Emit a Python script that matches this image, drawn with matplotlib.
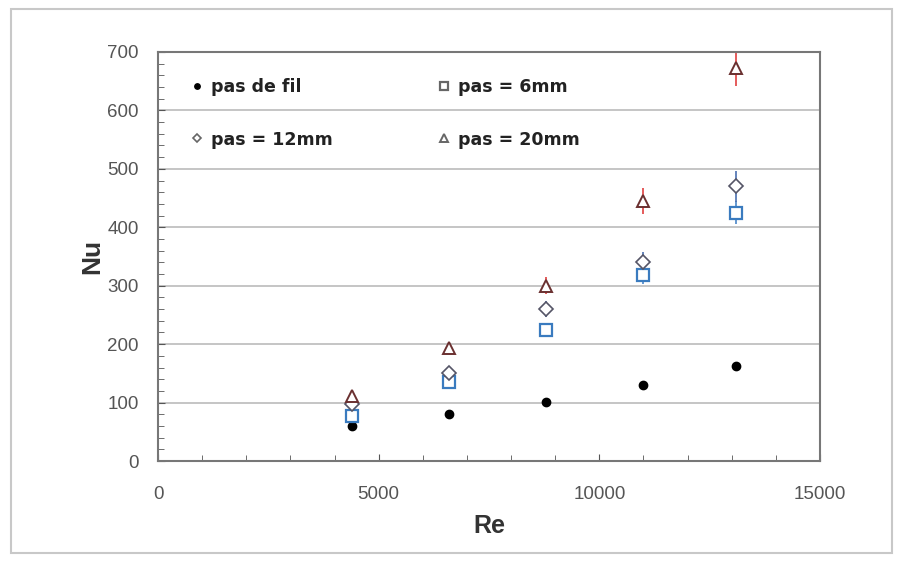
import matplotlib.pyplot as plt
from matplotlib.patches import Rectangle
from matplotlib.ticker import MultipleLocator

plt.rcParams['font.family'] = ['Liberation Sans', 'DejaVu Sans']

# Re values and Nu for each wire pitch
re = [4400, 6600, 8800, 11000, 13100]
nu_sans_fil = [60, 80, 101, 130, 163]
nu_6mm = [77, 135, 225, 318, 425]
nu_12mm = [97, 150, 260, 340, 470]
nu_20mm = [112, 193, 300, 445, 672]
err_6mm = [6, 6, 8, 15, 20]
err_12mm = [6, 6, 14, 18, 27]
err_20mm = [6, 5, 15, 22, 30]

fig = plt.figure(figsize=(9.01, 5.63), dpi=100)
# outer frame of the picture
fig.patches.append(Rectangle((0.012, 0.018), 0.978, 0.966, transform=fig.transFigure,
                             fill=False, edgecolor='#c8c8c8', linewidth=1.5))
ax = fig.add_axes([158/901, 1-461/563, (820-158)/901, (461-52)/563])

h1 = ax.errorbar(re, nu_sans_fil, fmt='o', ms=6, color='black', label='pas de fil')
h2 = ax.errorbar(re, nu_6mm, yerr=err_6mm, fmt='s', ms=8, mfc='white', mec='#3a7bbf',
                 mew=1.6, ecolor='#4a86c8', elinewidth=1.2, label='pas = 6mm')
h3 = ax.errorbar(re, nu_12mm, yerr=err_12mm, fmt='D', ms=7, mfc='white', mec='#555566',
                 mew=1.2, ecolor='#4a70b0', elinewidth=1.2, label='pas = 12mm')
h4 = ax.errorbar(re, nu_20mm, yerr=err_20mm, fmt='^', ms=8, mfc='white', mec='#6a3030',
                 mew=1.4, ecolor='#e04040', elinewidth=1.2, label='pas = 20mm')

ax.set_xlim(0, 15000)
ax.set_ylim(0, 700)
ax.xaxis.set_major_locator(MultipleLocator(5000))
ax.xaxis.set_minor_locator(MultipleLocator(1000))
ax.yaxis.set_major_locator(MultipleLocator(100))
ax.yaxis.set_minor_locator(MultipleLocator(20))
ax.tick_params(which='both', direction='in', colors='#555555', labelcolor='#555555',
               labelsize=13.5, top=False, right=False)
ax.tick_params(axis='x', which='major', length=5, pad=18)
ax.tick_params(axis='y', which='major', length=5, pad=14)
ax.tick_params(which='minor', length=4)
ax.grid(axis='y', color='#bbbbbb', linewidth=1.2)
ax.set_axisbelow(True)
for s in ax.spines.values():
    s.set_color('#777777')
    s.set_linewidth(1.5)

ax.set_xlabel('Re', fontsize=18, fontweight='bold', color='#333333', labelpad=8)
ax.set_ylabel('Nu', fontsize=19, fontweight='bold', color='#333333', labelpad=2)

handles = [h1.lines[0], h3.lines[0], h2.lines[0], h4.lines[0]]
leg = ax.legend(handles, ['pas de fil', 'pas = 12mm', 'pas = 6mm', 'pas = 20mm'],
                ncol=2, loc='upper left', bbox_to_anchor=(0.025, 0.975), frameon=False,
                columnspacing=6.0, labelspacing=2.0, handletextpad=0.4, handlelength=0.8,
                markerscale=0.65,
                prop={'family': ['DejaVu Sans'], 'weight': 'bold', 'size': 12.5})
for t in leg.get_texts():
    t.set_color('#222222')
for hl in leg.legend_handles:
    hl.set_markeredgecolor('#666666')
leg.legend_handles[0].set_markerfacecolor('black')
leg.legend_handles[0].set_markeredgecolor('black')

fig.savefig('out.png', dpi=100)
